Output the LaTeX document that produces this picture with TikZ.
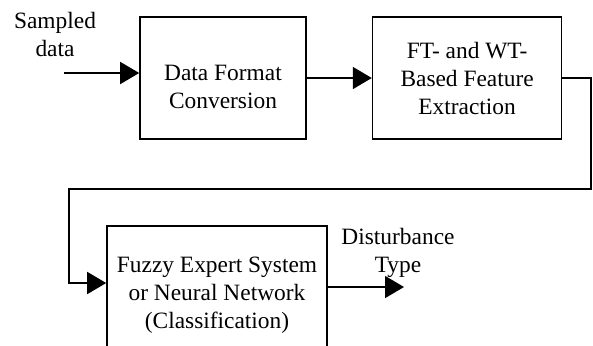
\documentclass[tikz,border=0pt]{standalone}
\usepackage{fontspec}
\setmainfont{Liberation Serif}
\usetikzlibrary{positioning,arrows.meta}

\begin{document}
\begin{tikzpicture}[x=1pt, y=1pt, node distance=32.5pt, >={Triangle[length=9.5pt,width=11pt]},
font=\fontsize{11.7}{14}\selectfont,
box/.style={draw, line width=.8pt, align=center, minimum height=61pt},
nobox/.style={align=center},
flow/.style={->, line width=.8pt}
]
\useasboundingbox (0,0) rectangle (296.5,-172.5);

\node (conv) [box, minimum width=83pt] at (111.5,-39) {\rule{0pt}{16.5pt}Data Format\\Conversion};
\node (feat) [box, minimum width=94.5pt, right=of conv] {FT- and WT-\\Based Feature\\Extraction};
\node (fes) [box, minimum width=110pt, minimum height=69pt] at (108.5,-147.5) {Fuzzy Expert System\\or Neural Network\\(Classification)};

\node (in) [nobox] at (27.5,-17) {Sampled\\data};
\node (out) [nobox] at (199,-126.5) {Disturbance\\Type};

\coordinate (start) at (32,-36.5);
\coordinate (end) at (202,-143.5);
\coordinate (turn) at (295.5,-94.5);
\coordinate (back) at (34.5,-94.5);

\draw[flow] (start) -- (start -| conv.west);
\draw[flow] (conv) -- (feat);
\draw[flow] (feat.east) -- (feat.east -| turn) -- (turn) -- (back) -- ([yshift=6pt]back |- fes.west) -- ([yshift=6pt]fes.west);
\draw[flow] (end -| fes.east) -- (end);

\end{tikzpicture}
\end{document}
